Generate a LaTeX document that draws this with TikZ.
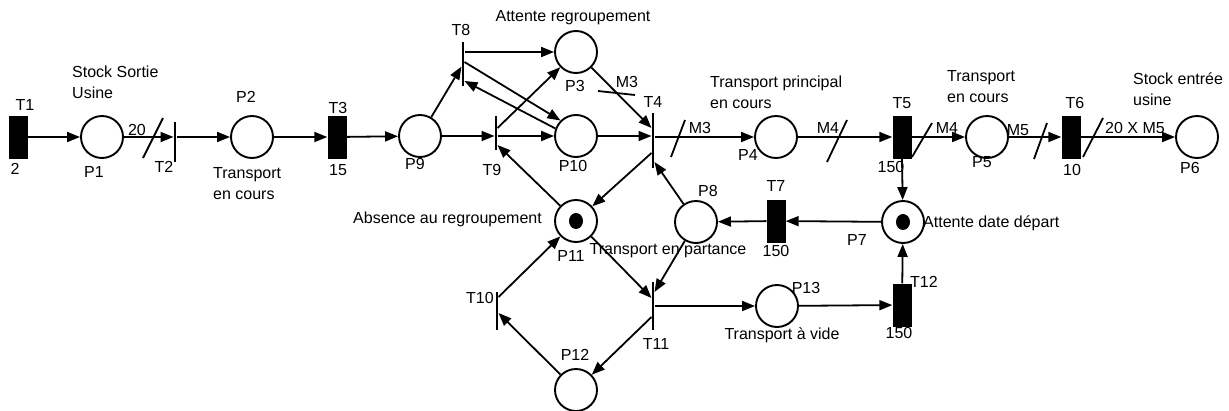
\documentclass[tikz,border=0pt]{standalone}
\usepackage{fontspec}
\setmainfont{Liberation Sans}
\usetikzlibrary{arrows.meta,calc}
\definecolor{pnink}{HTML}{000000}

\begin{document}
\begin{tikzpicture}[
        x=1pt, y=-1pt,
        font=\fontsize{16}{21}\selectfont,
        place/.style={circle, draw=pnink, line width=1.9pt, minimum size=42pt,
                      inner sep=0pt},
        marked/.style={place, path picture={\fill[pnink]
                      (path picture bounding box.center) ellipse (7pt and 8pt);}},
        timed/.style={rectangle, fill=pnink, minimum width=19pt,
                      minimum height=43pt, inner sep=0pt},
        bar/.style={rectangle, fill=pnink, minimum width=2.6pt,
                    minimum height=40pt, inner sep=0pt},
        lbl/.style={inner sep=0pt},
        arc/.style={-{Triangle[length=13pt,width=10pt]}, line width=1.8pt, pnink},
        tick/.style={line width=1.8pt, pnink}
    ]
        \useasboundingbox (0,0) rectangle (1229,410);

        % places
        \node[place] (P1) at (102,137) {};
        \node[place] (P2) at (252,137) {};
        \node[place] (P9) at (420,136) {};
        \node[place] (P3) at (576,52) {};
        \node[place] (P10) at (576,136) {};
        \node[place] (P4) at (776,137) {};
        \node[place] (P5) at (987,137) {};
        \node[place] (P6) at (1197,137) {};
        \node[marked] (P11) at (576,221) {};
        \node[place] (P8) at (696,222) {};
        \node[marked] (P7) at (903,222) {};
        \node[place] (P13) at (777,306) {};
        \node[place] (P12) at (576,390) {};

        % transitions
        \node[timed] (T1) at (18,137) {};
        \node[bar] (T2) at (175,142) {};
        \node[timed] (T3) at (337,137) {};
        \node[bar, minimum height=44pt] (T8) at (463,64) {};
        \node[bar, minimum height=34pt] (T9) at (496,133) {};
        \node[bar, minimum height=55pt] (T4) at (653,140) {};
        \node[timed] (T5) at (902,137) {};
        \node[timed] (T6) at (1071,137) {};
        \node[timed] (T7) at (776,221) {};
        \node[timed] (T12) at (902,305) {};
        \node[bar, minimum height=48pt] (T11) at (653,306) {};
        \node[bar, minimum height=38pt] (T10) at (497,311) {};

        % labels
        \node[lbl] (lT1) at (25,105) {T1};
        \node[lbl, anchor=west, align=left] (lstock) at (72,82.5) {Stock Sortie\\Usine};
        \node[lbl] (dT1) at (15,169) {2};
        \node[lbl] (lP1) at (94,172) {P1};
        \node[lbl] (w20) at (137,130) {20};
        \node[lbl] (lT2) at (164,167) {T2};
        \node[lbl] (lP2) at (246,97) {P2};
        \node[lbl, anchor=west, align=left] (ltrans) at (213,184) {Transport\\en cours};
        \node[lbl] (lT3) at (338,108) {T3};
        \node[lbl] (dT3) at (338,170) {15};
        \node[lbl] (lP9) at (415,164) {P9};
        \node[lbl] (lT8) at (461,30) {T8};
        \node[lbl] (lattente) at (573,18) {Attente regroupement};
        \node[lbl] (lP3) at (575,86) {P3};
        \node[lbl] (lP10) at (573,166) {P10};
        \node[lbl] (lT9) at (492,170) {T9};
        \node[lbl] (lT4) at (653,102) {T4};
        \node[lbl] (wM3a) at (627,82) {M3};
        \node[lbl, anchor=east] (labsence) at (542,219) {Absence au regroupement};
        \node[lbl] (lP11) at (571,256) {P11};
        \node[lbl] (lpartance) at (668,251) {Transport en partance};
        \node[lbl] (lP8) at (708,191) {P8};
        \node[lbl] (lT7) at (776,186) {T7};
        \node[lbl] (dT7) at (776,251) {150};
        \node[lbl, anchor=west] (ldate) at (923,223) {Attente date départ};
        \node[lbl] (lP7) at (857,240) {P7};
        \node[lbl, anchor=west] (lT12) at (910,282) {T12};
        \node[lbl] (dT12) at (899,333) {150};
        \node[lbl] (lP13) at (806,288) {P13};
        \node[lbl] (lvide) at (782,335) {Transport à vide};
        \node[lbl] (lT11) at (656,344) {T11};
        \node[lbl] (lT10) at (480,298) {T10};
        \node[lbl] (lP12) at (575,355) {P12};
        \node[lbl, anchor=west, align=left] (lprincipal) at (710,92.5) {Transport principal\\en cours};
        \node[lbl] (lP4) at (748,155) {P4};
        \node[lbl] (wM3b) at (700,128) {M3};
        \node[lbl] (wM4a) at (828,128) {M4};
        \node[lbl] (lT5) at (902,103) {T5};
        \node[lbl] (dT5) at (891,167) {150};
        \node[lbl] (wM4b) at (947,128) {M4};
        \node[lbl] (lP5) at (982,162) {P5};
        \node[lbl, anchor=west, align=left] (ltrans2) at (947,87) {Transport\\en cours};
        \node[lbl] (wM5) at (1018,130) {M5};
        \node[lbl] (lT6) at (1075,103) {T6};
        \node[lbl] (dT6) at (1072,170) {10};
        \node[lbl] (w20M5) at (1135,128) {20 X M5};
        \node[lbl] (lP6) at (1190,168) {P6};
        \node[lbl, anchor=west, align=left] (lstock2) at (1133,89.5) {Stock entrée\\usine};

        % arcs
        \draw[arc] (T1) -- (P1);
        \draw[arc] (P1) -- (P1 -| T2.west);
        \draw[arc] (P2 -| T2.east) -- (P2);
        \draw[arc] (P2) -- (T3);
        \draw[arc] (T3) -- (P9);
        \draw[arc] (P9) -- (T8);
        \draw[arc] (T8.east |- P3) -- (P3);
        \draw[arc] ([yshift=2pt]T8.east) -- (P10.135);
        \draw[arc] (P10.160) -- ([yshift=-17pt]T8.east);
        \draw[arc] (P9) -- (P9 -| T9.west);
        \draw[arc] (P10 -| T9.east) -- (P10);
        \draw[arc] ([yshift=5pt]T9.east) -- (P3);
        \draw[arc] (P10) -- (P10 -| T4.west);
        \draw[arc] (P3) -- ([yshift=12pt]T4.west);
        \draw[arc] ([yshift=-13pt]T4.west) -- (P11);
        \draw[arc] (P11) -- ([yshift=-12pt]T9.east);
        \draw[arc] (P8) -- ([yshift=-22pt]T4.east);
        \draw[arc] (P4 -| T4.east) -- (P4);
        \draw[arc] (P4) -- (T5);
        \draw[arc] (T5) -- (P5);
        \draw[arc] (P5) -- (T6);
        \draw[arc] (T6) -- (P6);
        \draw[arc] (T5.south) -- (P7);
        \draw[arc] (P7) -- (T7);
        \draw[arc] (T7) -- (P8);
        \draw[arc] (P8) -- ([yshift=14pt]T11.east);
        \draw[arc] (P11) -- ([yshift=8pt]T11.west);
        \draw[arc] (T11) -- (P13);
        \draw[arc] ([yshift=-11pt]T11.west) -- (P12);
        \draw[arc] (P12) -- ([yshift=-2pt]T10.east);
        \draw[arc] ([yshift=14pt]T10.east) -- (P11);
        \draw[arc] (P13) -- (T12);
        \draw[arc] (T12) -- (P7);

        % weight ticks
        \draw[tick] (143,158) -- (163,118);
        \draw[tick] (598,91) -- (635,95);
        \draw[tick] (671,157) -- (685,120);
        \draw[tick] (827,162) -- (847,120);
        \draw[tick] (912,157) -- (932,123);
        \draw[tick] (1034,159) -- (1047,123);
        \draw[tick] (1083,157) -- (1103,118);
    \end{tikzpicture}
\end{document}
